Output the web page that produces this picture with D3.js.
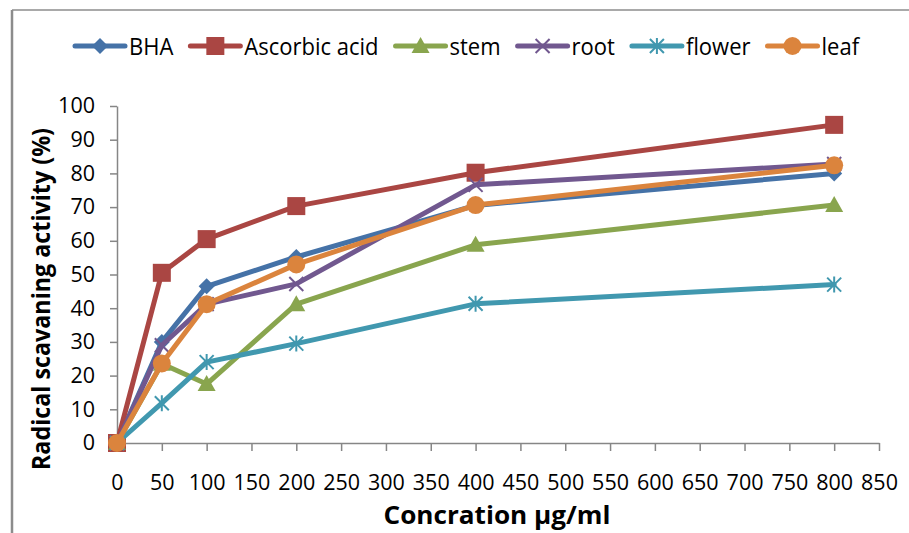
<!DOCTYPE html>
<html>
<head>
<meta charset="utf-8">
<script src="https://cdn.jsdelivr.net/npm/d3@7"></script>
<style>
  body { margin: 0; background: #fff; }
  text { font-family: "Open Sans", sans-serif; fill: #000; }
</style>
</head>
<body>
<div id="app"></div>
<script>

var concentrations = [0, 50, 100, 200, 400, 800];
var seriesNames = ["BHA", "Ascorbic acid", "stem", "root", "flower", "leaf"];
var bhaValues      = [0, 30.0, 46.5, 55.2, 70.5, 80.0];
var ascorbicValues = [0, 50.5, 60.5, 70.3, 80.2, 94.4];
var stemValues     = [0, 23.5, 17.5, 41.2, 58.8, 70.6];
var rootValues     = [0, 29.0, 41.2, 47.2, 76.6, 82.8];
var flowerValues   = [0, 11.8, 24.0, 29.5, 41.3, 47.0];
var leafValues     = [0, 23.6, 41.2, 53.0, 70.6, 82.4];
var xTicks = d3.range(0, 851, 50);
var yTicks = d3.range(0, 101, 10);

var colors  = ["#4572A7", "#AA4643", "#89A54E", "#71588F", "#4198AF", "#DB843D"];
var markers = ["diamond", "square", "triangle", "cross", "star", "circle"];

var series = [bhaValues, ascorbicValues, stemValues, rootValues, flowerValues, leafValues]
    .map(function (vals, i) {
	return {
	    name: seriesNames[i],
	    color: colors[i],
	    marker: markers[i],
	    points: vals.map(function (v, j) { return { x: concentrations[j], y: v }; })
	};
    });

function translate(x, y) {
    return "translate(" + x + ", " + y + ")";
}

var svg = d3.select("#app")
    .append("svg")
    .attr("width", 909)
    .attr("height", 533);

// chart frame (only its top and left edge are in view)
svg.append("line")
    .attr("x1", 12).attr("y1", 10).attr("x2", 909).attr("y2", 10)
    .style("stroke", "#8c8c8c").style("stroke-width", 1.5);
svg.append("line")
    .attr("x1", 12).attr("y1", 10).attr("x2", 12).attr("y2", 533)
    .style("stroke", "#8c8c8c").style("stroke-width", 2.5);

var x = d3.scaleLinear().domain([0, 850]).range([117, 879]);
var y = d3.scaleLinear().domain([0, 100]).range([443, 106]);

var xAxis = svg.append("g")
    .attr("transform", translate(0, y(0)))
    .call(d3.axisBottom(x).tickValues(xTicks).tickSize(8).tickSizeOuter(0).tickPadding(24));

var yAxis = svg.append("g")
    .attr("transform", translate(x(0), 0))
    .call(d3.axisLeft(y).tickValues(yTicks).tickSize(7).tickSizeOuter(0).tickPadding(15));

[xAxis, yAxis].forEach(function (ax) {
    ax.selectAll("path, line")
	.style("stroke", "#868686")
	.style("stroke-width", 1.5);
    ax.selectAll("text")
	.style("font-family", "'Open Sans', sans-serif")
	.style("font-size", "21.5px")
	.style("fill", "#000");
});

svg.append("text")
    .attr("transform", translate(50, 299) + " rotate(-90)")
    .attr("text-anchor", "middle")
    .attr("textLength", 342)
    .attr("lengthAdjust", "spacingAndGlyphs")
    .style("font-weight", "bold")
    .style("font-size", "25px")
    .text("Radical scavaning activity (%)");

svg.append("text")
    .attr("x", 497)
    .attr("y", 524)
    .attr("text-anchor", "middle")
    .attr("textLength", 227)
    .attr("lengthAdjust", "spacingAndGlyphs")
    .style("font-weight", "bold")
    .style("font-size", "25px")
    .text("Concration \u00b5g/ml");

function drawMarker(g, type, color) {
    if (type === "diamond") {
	g.append("path").attr("d", "M0,-8L8,0L0,8L-8,0Z").style("fill", color);
    } else if (type === "square") {
	g.append("rect").attr("x", -9).attr("y", -9).attr("width", 18).attr("height", 18).style("fill", color);
    } else if (type === "triangle") {
	g.append("path").attr("d", "M0,-9L9,7L-9,7Z").style("fill", color);
    } else if (type === "circle") {
	g.append("circle").attr("r", 9).style("fill", color);
    } else if (type === "cross") {
	g.append("path").attr("d", "M-7,-7L7,7M-7,7L7,-7")
	    .style("stroke", color).style("stroke-width", 2).style("fill", "none");
    } else if (type === "star") {
	g.append("path").attr("d", "M-7,-7L7,7M-7,7L7,-7M0,-8L0,8")
	    .style("stroke", color).style("stroke-width", 2).style("fill", "none");
    }
}

var line = d3.line()
    .x(function (d) { return x(d.x); })
    .y(function (d) { return y(d.y); });

var seriesGroups = svg.selectAll(".series")
    .data(series)
    .enter()
    .append("g")
    .attr("class", "series");

seriesGroups.append("path")
    .attr("d", function (s) { return line(s.points); })
    .style("fill", "none")
    .style("stroke", function (s) { return s.color; })
    .style("stroke-width", 5)
    .style("stroke-linejoin", "round")
    .style("stroke-linecap", "round");

seriesGroups.each(function (s) {
    var group = d3.select(this);
    s.points.forEach(function (p) {
	var m = group.append("g").attr("transform", translate(x(p.x), y(p.y)));
	drawMarker(m, s.marker, s.color);
    });
});

// legend laid out left to right; text is taller than wide, so squeeze it
var legend = svg.append("g").attr("transform", translate(0, 46));
var cursor = 75;
series.forEach(function (s) {
    var item = legend.append("g").attr("transform", translate(cursor, 0));
    item.append("line")
	.attr("x1", 0).attr("x2", 50)
	.style("stroke", s.color)
	.style("stroke-width", 5)
	.style("stroke-linecap", "round");
    drawMarker(item.append("g").attr("transform", translate(25, 0)), s.marker, s.color);
    var label = item.append("text")
	.attr("x", 54)
	.attr("y", 8)
	.style("font-size", "22px")
	.text(s.name);
    var w = label.node().getComputedTextLength();
    label.style("font-size", "24px")
	.attr("y", 9)
	.attr("textLength", w)
	.attr("lengthAdjust", "spacingAndGlyphs");
    cursor += 54 + w + 17;
});

</script>
</body>
</html>
